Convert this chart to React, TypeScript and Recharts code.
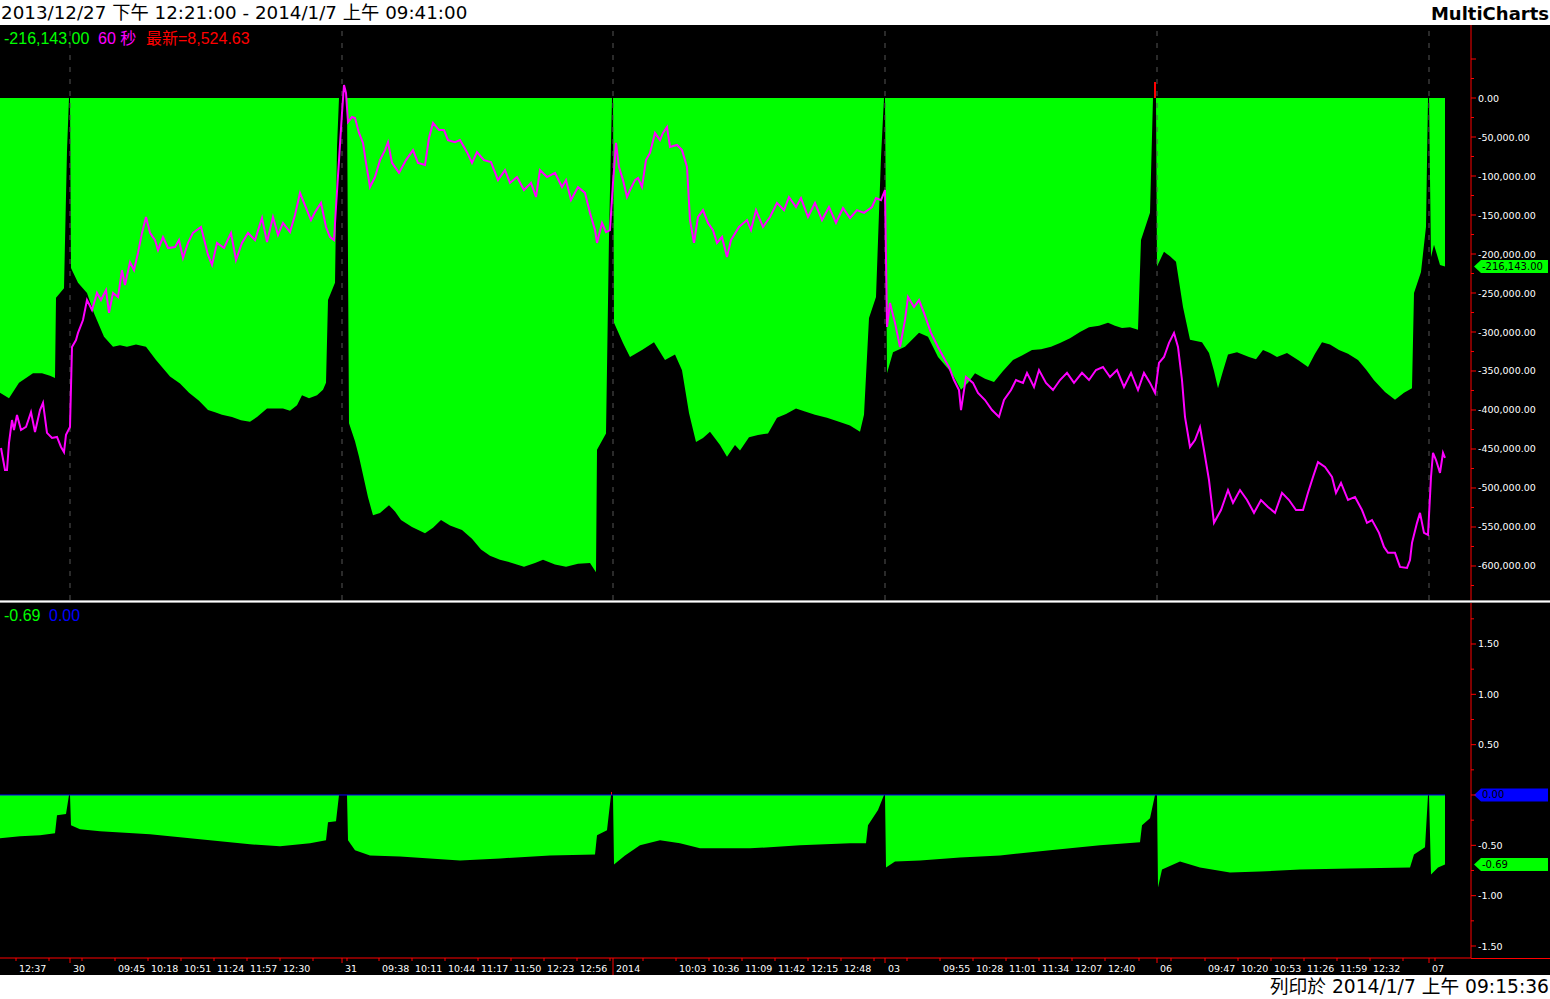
import React from 'react'
import { ComposedChart, Area, Line, XAxis, YAxis, ReferenceLine } from 'recharts'

type Pt = [number, number]

// x = 1-minute bar index (12/27 12:21 = bar 0, one session = 09:00..13:30)
const dayTicks: [number, string][] = [[70, '30'], [342, '31'], [613, '2014'], [885, '03'], [1157, '06'], [1429, '07']]
const timeTicks: [number, string][] = [
  [16, '12:37'], [49, ''], [82, ''], [115, '09:45'], [148, '10:18'], [181, '10:51'], [214, '11:24'], [247, '11:57'],
  [280, '12:30'], [313, ''], [347, ''], [379, '09:38'], [412, '10:11'], [445, '10:44'], [478, '11:17'], [511, '11:50'],
  [544, '12:23'], [577, '12:56'], [610, ''], [643, ''], [676, '10:03'], [709, '10:36'], [742, '11:09'], [775, '11:42'],
  [808, '12:15'], [841, '12:48'], [874, ''], [907, ''], [940, '09:55'], [973, '10:28'], [1006, '11:01'], [1039, '11:34'],
  [1072, '12:07'], [1105, '12:40'], [1139, ''], [1171, ''], [1205, '09:47'], [1238, '10:20'], [1271, '10:53'],
  [1304, '11:26'], [1337, '11:59'], [1370, '12:32'], [1403, ''], [1435, ''],
]

const topTicks = [50000, 25000, 0, -25000, -50000, -75000, -100000, -125000, -150000, -175000, -200000, -225000,
  -250000, -275000, -300000, -325000, -350000, -375000, -400000, -425000, -450000, -475000, -500000, -525000,
  -550000, -575000, -600000, -625000]
const botTicks = [1.75, 1.5, 1.25, 1, 0.75, 0.5, 0.25, 0, -0.25, -0.5, -0.75, -1, -1.25, -1.5]

// upper panel: green histogram (cumulative)
const flow1227: Pt[] = [[0, -378000], [9, -385000], [19, -365000], [33, -353000], [42, -353000], [50, -356000], [55, -359000], [56, -256000], [64, -244000], [67, -67000], [69, 0]]
const flow30: Pt[] = [[70, 0], [71, -218000], [78, -237000], [87, -250000], [94, -276000], [104, -306000], [113, -319000], [120, -317000], [127, -319000], [136, -316000], [146, -319000], [156, -336000], [170, -357000], [180, -366000], [189, -378000], [199, -388000], [208, -400000], [215, -403000], [222, -406000], [232, -409000], [241, -413000], [250, -415000], [257, -409000], [267, -398000], [283, -398000], [290, -401000], [297, -394000], [302, -381000], [309, -385000], [317, -381000], [323, -374000], [326, -365000], [328, -259000], [335, -237000], [337, -63000], [339, 0]]
const flow31: Pt[] = [[347, 0], [349, -417000], [355, -440000], [359, -460000], [368, -512000], [373, -535000], [380, -532000], [389, -522000], [395, -530000], [401, -541000], [412, -550000], [425, -558000], [433, -551000], [441, -541000], [450, -548000], [462, -554000], [472, -565000], [481, -579000], [490, -587000], [500, -592000], [512, -596000], [524, -601000], [535, -596000], [543, -592000], [555, -598000], [566, -601000], [578, -597000], [590, -596000], [596, -608000], [597, -451000], [606, -430000], [609, -178000], [612, 0]]
const flow0102: Pt[] = [[613, 0], [614, -288000], [623, -314000], [630, -332000], [642, -323000], [654, -313000], [665, -336000], [675, -329000], [682, -349000], [689, -404000], [696, -441000], [703, -436000], [710, -428000], [720, -445000], [727, -460000], [735, -445000], [740, -452000], [749, -435000], [758, -432000], [768, -430000], [777, -410000], [786, -405000], [796, -398000], [805, -402000], [815, -406000], [827, -410000], [839, -415000], [850, -420000], [860, -428000], [864, -406000], [869, -282000], [876, -255000], [881, -76000], [884, 0]]
const flow0103: Pt[] = [[885, 0], [887, -353000], [893, -326000], [905, -319000], [919, -301000], [928, -306000], [938, -332000], [952, -353000], [961, -374000], [968, -365000], [975, -353000], [985, -360000], [994, -364000], [1003, -350000], [1013, -336000], [1022, -330000], [1032, -323000], [1041, -322000], [1051, -319000], [1060, -314000], [1070, -308000], [1080, -300000], [1089, -294000], [1099, -292000], [1108, -288000], [1115, -292000], [1122, -295000], [1130, -294000], [1138, -297000], [1141, -182000], [1150, -147000], [1153, 0]]
const flow0106: Pt[] = [[1154, 0], [1156, 0], [1157, -216000], [1164, -197000], [1170, -203000], [1176, -210000], [1183, -268000], [1190, -310000], [1202, -313000], [1209, -327000], [1214, -350000], [1218, -372000], [1223, -350000], [1228, -329000], [1237, -326000], [1249, -332000], [1256, -335000], [1263, -323000], [1270, -327000], [1277, -332000], [1287, -327000], [1298, -336000], [1308, -345000], [1315, -328000], [1322, -313000], [1330, -316000], [1339, -323000], [1348, -328000], [1358, -336000], [1366, -348000], [1374, -362000], [1385, -377000], [1395, -387000], [1404, -378000], [1412, -372000], [1414, -250000], [1421, -223000], [1426, -165000], [1428, 0]]
const flow0107: Pt[] = [[1429, 0], [1431, -204000], [1434, -188000], [1440, -214000], [1445, -216143]]
const flowUp: Pt[] = [[1154, 20500], [1156, 20500]]

// upper panel: index price (magenta, own hidden scale)
const price1227: Pt[] = [[1, 8528.5], [5, 8519.9], [7, 8519.9], [9, 8530.5], [12, 8539.4], [14, 8535.5], [17, 8541.4], [21, 8535.5], [26, 8536.7], [31, 8542.5], [35, 8534.7], [40, 8543.3], [43, 8546.1], [47, 8534.4], [52, 8532.4], [57, 8532.8], [61, 8528.9], [64, 8526.9], [66, 8533.6], [70, 8536.7]]
const price30: Pt[] = [[72, 8567.9], [76, 8570.6], [78, 8573.4], [83, 8578.4], [87, 8586.2], [92, 8582.3], [97, 8589.0], [101, 8586.2], [106, 8590.1], [109, 8581.2], [113, 8589.0], [118, 8587.4], [122, 8597.9], [125, 8592.1], [130, 8601.0], [134, 8597.9], [138, 8604.6], [142, 8612.4], [146, 8618.6], [150, 8612.4], [155, 8609.6], [158, 8605.7], [163, 8610.8], [168, 8606.5], [175, 8606.9], [179, 8609.6], [183, 8602.6], [188, 8608.5], [193, 8612.4], [201, 8614.7], [208, 8603.8], [212, 8599.9], [217, 8608.5], [224, 8606.5], [231, 8612.4], [236, 8601.8], [242, 8608.5], [248, 8612.4], [255, 8609.6], [262, 8618.2], [267, 8608.8], [273, 8618.6], [278, 8611.6], [283, 8616.3], [290, 8612.7], [295, 8619.4], [300, 8628.0], [304, 8624.1], [311, 8617.4], [315, 8620.5], [321, 8624.1], [326, 8614.7], [330, 8610.8], [334, 8609.6], [336, 8622.5], [339, 8640.8]]
const price31: Pt[] = [[342, 8659.2], [344, 8670.1], [346, 8667.0], [348, 8655.6], [352, 8657.6], [355, 8657.2], [359, 8651.4], [363, 8647.5], [366, 8639.7], [370, 8630.3], [375, 8634.2], [380, 8640.8], [385, 8644.7], [388, 8647.8], [392, 8639.7], [399, 8635.8], [406, 8640.8], [413, 8644.7], [418, 8639.7], [425, 8638.9], [429, 8649.4], [433, 8655.3], [439, 8652.5], [444, 8652.5], [448, 8648.6], [455, 8647.8], [460, 8648.6], [467, 8643.9], [472, 8639.7], [477, 8643.9], [484, 8640.8], [491, 8640.0], [498, 8633.0], [505, 8636.9], [510, 8631.9], [517, 8634.2], [524, 8629.1], [531, 8631.9], [536, 8626.4], [540, 8636.9], [547, 8634.2], [555, 8635.8], [562, 8630.3], [566, 8633.0], [571, 8625.2], [578, 8630.3], [585, 8628.0], [590, 8620.2], [595, 8613.5], [597, 8608.5], [602, 8616.3], [606, 8612.7], [610, 8613.5]]
const price0102: Pt[] = [[613, 8631.9], [616, 8647.5], [619, 8638.1], [623, 8633.0], [627, 8626.4], [630, 8629.1], [635, 8633.0], [638, 8633.8], [642, 8630.3], [646, 8640.8], [650, 8643.6], [655, 8651.4], [660, 8648.6], [663, 8651.4], [667, 8653.7], [670, 8645.9], [677, 8646.7], [682, 8644.7], [687, 8638.1], [690, 8617.4], [694, 8608.5], [698, 8618.6], [703, 8621.3], [708, 8616.3], [713, 8613.5], [717, 8608.5], [722, 8610.8], [727, 8603.0], [731, 8609.6], [739, 8614.7], [747, 8617.4], [751, 8613.5], [756, 8621.3], [763, 8614.7], [770, 8618.6], [777, 8624.1], [784, 8621.3], [789, 8626.4], [796, 8622.5], [801, 8626.0], [808, 8618.6], [815, 8624.1], [822, 8617.4], [829, 8622.5], [836, 8616.3], [843, 8622.1], [850, 8618.2], [857, 8621.3], [864, 8620.2], [872, 8622.5], [876, 8626.0], [881, 8625.2], [885, 8629.1]]
const price0103: Pt[] = [[887, 8575.7], [890, 8585.1], [895, 8577.3], [900, 8567.9], [905, 8578.4], [908, 8587.4], [914, 8583.5], [919, 8586.2], [924, 8581.2], [931, 8573.4], [938, 8567.9], [945, 8562.8], [949, 8560.1], [954, 8555.0], [959, 8551.1], [961, 8543.3], [966, 8556.2], [973, 8553.9], [978, 8550.0], [985, 8547.2], [992, 8543.3], [999, 8540.6], [1004, 8547.2], [1011, 8551.1], [1016, 8555.0], [1023, 8553.9], [1027, 8557.8], [1034, 8552.3], [1039, 8558.9], [1046, 8553.9], [1053, 8551.1], [1060, 8555.0], [1067, 8557.8], [1074, 8553.9], [1082, 8557.8], [1089, 8555.0], [1096, 8558.9], [1103, 8560.1], [1110, 8556.2], [1117, 8558.9], [1124, 8552.3], [1131, 8557.8], [1138, 8551.1], [1144, 8557.8], [1150, 8553.9], [1155, 8550.0]]
const price0106: Pt[] = [[1159, 8561.7], [1164, 8564.0], [1169, 8569.5], [1174, 8573.4], [1178, 8567.9], [1182, 8555.0], [1185, 8540.6], [1190, 8528.9], [1195, 8531.6], [1200, 8536.7], [1204, 8527.7], [1209, 8516.0], [1214, 8499.3], [1221, 8504.3], [1228, 8512.1], [1233, 8507.1], [1240, 8512.1], [1247, 8508.2], [1254, 8503.2], [1261, 8508.2], [1268, 8505.5], [1275, 8503.2], [1282, 8511.0], [1289, 8508.2], [1296, 8504.3], [1303, 8504.3], [1308, 8511.0], [1313, 8517.2], [1318, 8523.0], [1325, 8521.1], [1332, 8517.2], [1336, 8511.0], [1341, 8514.9], [1348, 8508.2], [1355, 8509.4], [1362, 8504.3], [1367, 8499.3], [1372, 8500.4], [1379, 8495.4], [1384, 8489.9], [1388, 8487.6], [1395, 8487.6], [1400, 8482.1], [1407, 8481.7], [1410, 8484.8], [1412, 8491.5], [1417, 8499.3], [1420, 8503.2], [1424, 8495.4], [1428, 8494.6]]
const price0107: Pt[] = [[1431, 8517.2], [1433, 8526.6], [1436, 8523.8], [1440, 8518.8], [1443, 8526.6], [1445, 8524.63]]

// lower panel: ratio histogram
const ratio1227: Pt[] = [[0, -0.43], [20, -0.41], [40, -0.4], [55, -0.38], [57, -0.2], [66, -0.19], [69, 0]]
const ratio30: Pt[] = [[70, 0], [71, -0.3], [80, -0.34], [100, -0.36], [150, -0.39], [200, -0.44], [250, -0.49], [280, -0.51], [310, -0.48], [326, -0.45], [328, -0.27], [336, -0.26], [339, 0]]
const ratio31: Pt[] = [[347, 0], [348, -0.45], [355, -0.55], [370, -0.6], [400, -0.61], [430, -0.63], [460, -0.65], [500, -0.63], [550, -0.6], [595, -0.59], [597, -0.4], [607, -0.35], [611, 0]]
const ratio0102: Pt[] = [[613, 0], [614, -0.69], [625, -0.6], [640, -0.5], [660, -0.45], [680, -0.48], [700, -0.53], [750, -0.53], [800, -0.5], [850, -0.48], [866, -0.48], [868, -0.3], [878, -0.15], [884, 0]]
const ratio0103: Pt[] = [[885, 0], [886, -0.72], [895, -0.66], [920, -0.65], [960, -0.62], [1000, -0.6], [1050, -0.55], [1100, -0.5], [1140, -0.47], [1142, -0.3], [1150, -0.23], [1155, 0]]
const ratio0106: Pt[] = [[1157, 0], [1158, -0.92], [1162, -0.74], [1180, -0.66], [1200, -0.72], [1230, -0.77], [1260, -0.76], [1300, -0.74], [1350, -0.73], [1410, -0.72], [1414, -0.59], [1425, -0.52], [1428, 0]]
const ratio0107: Pt[] = [[1429, 0], [1431, -0.79], [1438, -0.72], [1445, -0.69]]
const ratioUp: Pt[] = [[611, 0.03], [612, 0.03]]
const zeroRef: Pt[] = [[0, 0], [1445, 0]]

const toRows = (pts: Pt[]) => pts.map(([i, v]) => ({ i, v }))
const flowData = toRows([...flow1227, ...flow30, ...flow31, ...flow0102, ...flow0103, ...flow0106, ...flow0107])
const priceData = toRows([...price1227, ...price30, ...price31, ...price0102, ...price0103, ...price0106, ...price0107])
const ratioData = toRows([...ratio1227, ...ratio30, ...ratio31, ...ratio0102, ...ratio0103, ...ratio0106, ...ratio0107])

const tickText = new Map<number, string>([...timeTicks, ...dayTicks])
const xTickPos = [...tickText.keys()].sort((a, b) => a - b)

const F_UI = '"DejaVu Sans", "Noto Sans CJK TC", sans-serif'
const F_LEG = '"Liberation Sans", Arial, "Noto Sans CJK TC", sans-serif'
const GREEN = '#00ff00'

function TopTick({ x, y, payload }: any) {
  const v = payload.value
  const major = v % 50000 === 0
  return (
    <g>
      <line x1={x} x2={x + (major ? 5 : 3)} y1={y} y2={y} stroke="#ff0000" />
      {major && v <= 0 && (
        <text x={x + 7} y={y + 3.5} fill="#fff" fontSize={9.5} fontFamily={F_UI}>
          {v.toLocaleString('en-US', { minimumFractionDigits: 2, maximumFractionDigits: 2 })}
        </text>
      )}
    </g>
  )
}

function BotTick({ x, y, payload }: any) {
  const v = payload.value
  const major = Math.abs(v * 2 - Math.round(v * 2)) < 1e-9
  return (
    <g>
      <line x1={x} x2={x + (major ? 5 : 3)} y1={y} y2={y} stroke="#ff0000" />
      {major && v !== 0 && (
        <text x={x + 7} y={y + 3.5} fill="#fff" fontSize={9.5} fontFamily={F_UI}>{v.toFixed(2)}</text>
      )}
    </g>
  )
}

function TimeTick({ x, y, payload }: any) {
  const label = tickText.get(payload.value) ?? ''
  const isYear = label === '2014'
  const isDay = dayTicks.some(d => d[0] === payload.value)
  return (
    <g>
      <line x1={x} x2={x} y1={y} y2={y + (isYear ? 17 : isDay ? 5 : 3)} stroke="#ff0000" />
      {label && (
        <text x={x + 3} y={y + 14} fill="#fff" fontSize={9.5} fontFamily={F_UI}>{label}</text>
      )}
    </g>
  )
}

const tag = (text: string, bg: string) => (p: any) => {
  const vb = p && p.viewBox
  if (!vb) return null
  const x = vb.x + vb.width
  const y = vb.y
  return (
    <g>
      <polygon points={`${x + 3},${y} ${x + 10},${y - 6.5} ${x + 77},${y - 6.5} ${x + 77},${y + 6.5} ${x + 10},${y + 6.5}`} fill={bg} />
      <text x={x + 11} y={y + 3.5} fontSize={10} fontFamily={F_UI} fill="#000">{text}</text>
    </g>
  )
}

export default function App() {
  return (
    <div style={{ position: 'absolute', left: 0, top: 0, width: 1550, height: 999, background: '#000', overflow: 'hidden' }}>
      <div style={{ position: 'absolute', left: 0, top: 0, width: 1550, height: 25, background: '#fff' }} />

      <div style={{ position: 'absolute', left: 0, top: 25 }}>
        <ComposedChart width={1550} height={575} margin={{ top: 0, right: 0, bottom: 0, left: 0 }}>
          <XAxis dataKey="i" type="number" domain={[0, 1471]} allowDataOverflow hide />
          <YAxis yAxisId="v" orientation="right" width={79} type="number" domain={[-643590, 93590]} allowDataOverflow
            ticks={topTicks} interval={0} tickSize={0} tickMargin={0} tickLine={false}
            axisLine={{ stroke: '#ff0000' }} tick={(p: any) => <TopTick {...p} />} />
          <YAxis yAxisId="p" hide type="number" domain={[8469.2, 8693.5]} allowDataOverflow />
          {dayTicks.map(([d]) => (
            <ReferenceLine key={d} yAxisId="v" x={d} stroke="#555555" strokeDasharray="5 7" />
          ))}
          <Area yAxisId="v" data={flowData} dataKey="v" type="linear" baseValue={0} fill={GREEN} fillOpacity={1} stroke="none" dot={false} isAnimationActive={false} />
          <Area yAxisId="v" data={toRows(flowUp)} dataKey="v" type="linear" baseValue={0} fill="#ff0000" fillOpacity={1} stroke="none" dot={false} isAnimationActive={false} />
          <Line yAxisId="p" data={priceData} dataKey="v" type="linear" stroke="#ff00ff" strokeWidth={2} dot={false} isAnimationActive={false} />
          <ReferenceLine yAxisId="v" y={-216143} stroke="none" label={tag('-216,143.00', GREEN)} />
        </ComposedChart>
      </div>

      <div style={{ position: 'absolute', left: 0, top: 600, width: 1550, height: 1, background: '#9a9a9a' }} />
      <div style={{ position: 'absolute', left: 0, top: 601, width: 1550, height: 1, background: '#ffffff' }} />
      <div style={{ position: 'absolute', left: 0, top: 602, width: 1550, height: 1, background: '#9a9a9a' }} />

      <div style={{ position: 'absolute', left: 0, top: 603 }}>
        <ComposedChart width={1550} height={372} margin={{ top: 0, right: 0, bottom: 0, left: 0 }}>
          <XAxis dataKey="i" type="number" domain={[0, 1471]} allowDataOverflow height={17}
            ticks={xTickPos} interval={0} tickSize={0} tickMargin={0} tickLine={false}
            axisLine={{ stroke: '#ff0000' }} tick={(p: any) => <TimeTick {...p} />} />
          <YAxis orientation="right" width={79} type="number" domain={[-1.6192, 1.9072]} allowDataOverflow
            ticks={botTicks} interval={0} tickSize={0} tickMargin={0} tickLine={false}
            axisLine={{ stroke: '#ff0000' }} tick={(p: any) => <BotTick {...p} />} />
          <Area data={ratioData} dataKey="v" type="linear" baseValue={0} fill={GREEN} fillOpacity={1} stroke="none" dot={false} isAnimationActive={false} />
          <Area data={toRows(ratioUp)} dataKey="v" type="linear" baseValue={0} fill="#ff0000" fillOpacity={1} stroke="none" dot={false} isAnimationActive={false} />
          <Line data={toRows(zeroRef)} dataKey="v" type="linear" stroke="#0000ff" strokeWidth={1} dot={false} isAnimationActive={false} />
          <ReferenceLine y={0} stroke="none" label={tag('0.00', '#0000ff')} />
          <ReferenceLine y={-0.69} stroke="none" label={tag('-0.69', GREEN)} />
        </ComposedChart>
      </div>

      <div style={{ position: 'absolute', left: 1471, top: 958, width: 79, height: 1, background: '#ff0000' }} />
      <div style={{ position: 'absolute', left: 0, top: 975, width: 1550, height: 24, background: '#fff' }} />

      <svg width={1550} height={999} style={{ position: 'absolute', left: 0, top: 0, pointerEvents: 'none' }}>
        <text x={1} y={19} fontSize={18.3} fontFamily={F_UI} fill="#000">2013/12/27 下午 12:21:00 - 2014/1/7 上午 09:41:00</text>
        <text x={1549} y={20} fontSize={18} fontWeight="bold" fontFamily={F_UI} fill="#000" textAnchor="end">MultiCharts</text>
        <text x={4} y={44} fontSize={16} fontFamily={F_LEG} fill={GREEN}>-216,143.00</text>
        <text x={98} y={44} fontSize={16} fontFamily={F_LEG} fill="#ff00ff">60 秒</text>
        <text x={146} y={44} fontSize={16} fontFamily={F_LEG} fill="#ff0000">最新=8,524.63</text>
        <text x={4} y={621} fontSize={16} fontFamily={F_LEG} fill={GREEN}>-0.69</text>
        <text x={49} y={621} fontSize={16} fontFamily={F_LEG} fill="#0000ff">0.00</text>
        <text x={1549} y={993} fontSize={18.7} fontFamily={F_UI} fill="#000" textAnchor="end">列印於 2014/1/7 上午 09:15:36</text>
      </svg>
    </div>
  )
}
